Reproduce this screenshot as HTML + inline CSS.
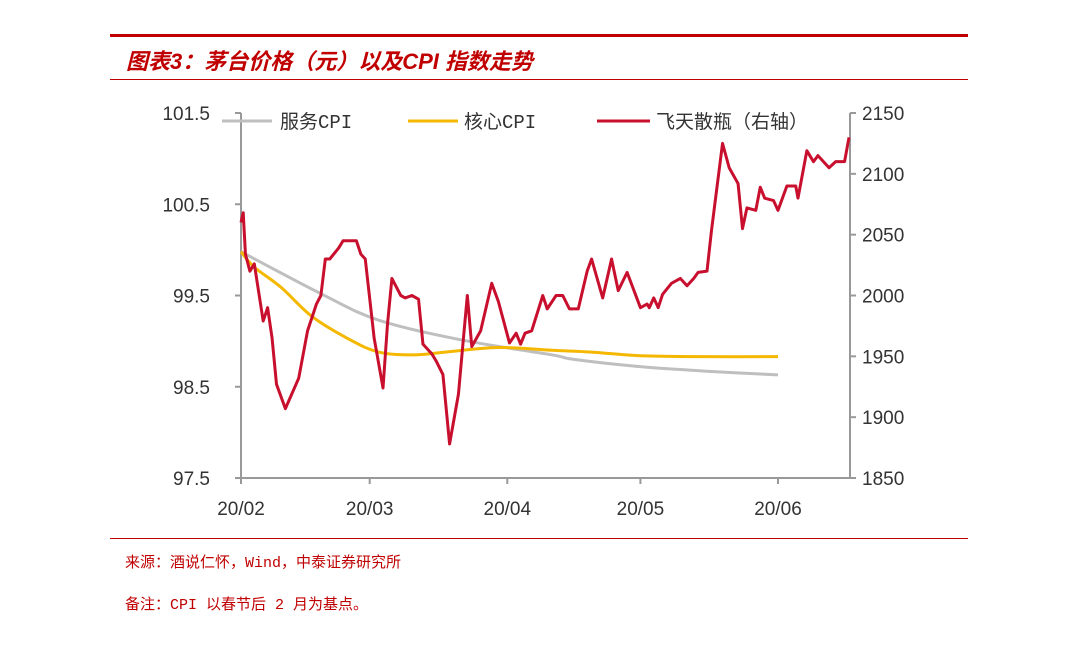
<!DOCTYPE html>
<html><head><meta charset="utf-8">
<style>
html,body{margin:0;padding:0;background:#fff;}
body{width:1080px;height:648px;overflow:hidden;position:relative;font-family:"Liberation Sans","Noto Sans CJK SC",sans-serif;}
.abs{position:absolute;}
</style></head>
<body>
<div class="abs" style="left:110px;top:34px;width:858px;height:3px;background:#c00000"></div>
<div class="abs" style="left:126px;top:44px;font-size:22px;font-weight:bold;font-style:italic;color:#c00000;font-family:'Liberation Sans','Noto Sans CJK SC',sans-serif;">图表3：茅台价格（元）以及CPI 指数走势</div>
<div class="abs" style="left:110px;top:79px;width:858px;height:1px;background:#c00000"></div>
<div class="abs" style="left:110px;top:538px;width:858px;height:1px;background:#c00000"></div>
<div class="abs" style="left:125px;top:551px;font-size:15px;color:#c00000;font-family:'Liberation Mono','Noto Sans CJK SC',monospace;">来源：酒说仁怀，Wind，中泰证券研究所</div>
<div class="abs" style="left:125px;top:593px;font-size:15px;color:#c00000;font-family:'Liberation Mono','Noto Sans CJK SC',monospace;">备注：CPI 以春节后 2 月为基点。</div>
<svg class="abs" style="left:0;top:0" width="1080" height="648">
<g id="axes"></g><g id="series"></g><g id="legend"></g>
</svg>
<script>
const monthLabels=["20/02","20/03","20/04","20/05","20/06"];
const monthDays=[0,29,60,90,121];
const leftTicks=[97.5,98.5,99.5,100.5,101.5];
const rightTicks=[1850,1900,1950,2000,2050,2100,2150];
const redDays=[0,0.5,1,2,3,5,6,7,8,10,13,15,17,18,19,20,22,23,26,27,28,30,32,33,34,36,37,38.5,40,41,43,44,45.5,47,49,50,51,52,54,56.5,58,60.5,62,63,64,65.5,68,69,71,72.5,74,76,78,79,81.5,83.5,85,87,90,91.5,92,93,94,95,97,99,100.5,102,103,105,106,108.5,110,112,113,114,116,117,118,120,121,123,125,125.5,127.5,129,130,132.5,134,136,137];
const redVals=[2060,2068,2034,2020,2026,1979,1990,1965,1927,1907,1932,1971,1993,2000,2030,2030,2039,2045,2045,2034,2030,1965,1924,1976,2014,2000,1998,2000,1997,1960,1952,1946,1935,1878,1919,1960,2000,1958,1971,2010,1995,1961,1969,1960,1969,1971,2000,1989,2000,2000,1989,1989,2020,2030,1998,2030,2004,2019,1990,1993,1990,1998,1990,2001,2010,2014,2008,2014,2019,2020,2053,2125,2105,2092,2055,2072,2070,2089,2080,2078,2070,2090,2090,2080,2119,2110,2115,2105,2110,2110,2130];
const grayDays=[0,18,31,50,70,75,90,105,121];
const grayVals=[99.98,99.52,99.23,99.01,98.85,98.80,98.72,98.67,98.63];
const yelDays=[0,3,9,16,24,31,39,46,58,70,79,90,105,121];
const yelVals=[99.98,99.81,99.59,99.27,99.03,98.88,98.85,98.88,98.93,98.90,98.88,98.84,98.83,98.83];

const X0=241,X1=850,YT=113,YB=478;
const xs=d=>X0+d*(778-241)/121;
const yl=v=>YB-(v-97.5)*(YB-YT)/4;
const yr=v=>YB-(v-1850)*(YB-YT)/300;
const NS="http://www.w3.org/2000/svg";
function mk(tag,attrs,parent){const e=document.createElementNS(NS,tag);for(const k in attrs)e.setAttribute(k,attrs[k]);parent.appendChild(e);return e;}
const axes=document.getElementById('axes'),ser=document.getElementById('series'),leg=document.getElementById('legend');
const ac="#999";
let e;
e=mk('line',{x1:X0,y1:YT,x2:X0,y2:YB,stroke:ac,'stroke-width':2},axes);

e=mk('line',{x1:X1,y1:YT,x2:X1,y2:YB,stroke:ac,'stroke-width':2},axes);

e=mk('line',{x1:X0,y1:YB,x2:X1,y2:YB,stroke:ac,'stroke-width':2},axes);

leftTicks.forEach(v=>{const y=yl(v);
 mk('line',{x1:X0-6,y1:y,x2:X0,y2:y,stroke:ac,'stroke-width':2},axes);
 const t=mk('text',{x:210,y:y+7,'text-anchor':'end','font-size':19,fill:'#333'},axes);t.textContent=v.toFixed(1);
 });
rightTicks.forEach(v=>{const y=yr(v);
 mk('line',{x1:X1,y1:y,x2:X1+6,y2:y,stroke:ac,'stroke-width':2},axes);
 const t=mk('text',{x:862,y:y+7,'font-size':19,fill:'#333'},axes);t.textContent=v;
 });
monthDays.forEach((d,i)=>{const x=xs(d);
 mk('line',{x1:x,y1:YB,x2:x,y2:YB+6,stroke:ac,'stroke-width':2},axes);
 const t=mk('text',{x:x,y:515,'text-anchor':'middle','font-size':19,fill:'#333'},axes);t.textContent=monthLabels[i];
 });
function smooth(pts){let d=`M${pts[0][0]},${pts[0][1]}`;
 for(let i=0;i<pts.length-1;i++){const p0=pts[Math.max(0,i-1)],p1=pts[i],p2=pts[i+1],p3=pts[Math.min(pts.length-1,i+2)];
 d+=` C${p1[0]+(p2[0]-p0[0])/6},${p1[1]+(p2[1]-p0[1])/6} ${p2[0]-(p3[0]-p1[0])/6},${p2[1]-(p3[1]-p1[1])/6} ${p2[0]},${p2[1]}`;}return d;}
e=mk('path',{d:smooth(grayDays.map((d,i)=>[xs(d),yl(grayVals[i])])),fill:'none',stroke:'#bfbfbf','stroke-width':3},ser);

e=mk('path',{d:smooth(yelDays.map((d,i)=>[xs(d),yl(yelVals[i])])),fill:'none',stroke:'#f5b800','stroke-width':3},ser);

e=mk('polyline',{points:redDays.map((d,i)=>xs(d)+','+yr(redVals[i])).join(' '),fill:'none',stroke:'#c8102e','stroke-width':3,'stroke-linejoin':'round'},ser);

const legs=[[222,272,'#bfbfbf',280,'服务CPI'],[408,458,'#f5b800',464,'核心CPI'],[597,650,'#c8102e',656,'飞天散瓶（右轴）']];
legs.forEach(l=>{mk('line',{x1:l[0],y1:121,x2:l[1],y2:121,stroke:l[2],'stroke-width':3},leg);
 const t=mk('text',{x:l[3],y:128,'font-size':19,fill:'#333','font-family':"'Liberation Mono','Noto Sans CJK SC',monospace"},leg);t.textContent=l[4];
 });
</script>
</body></html>
